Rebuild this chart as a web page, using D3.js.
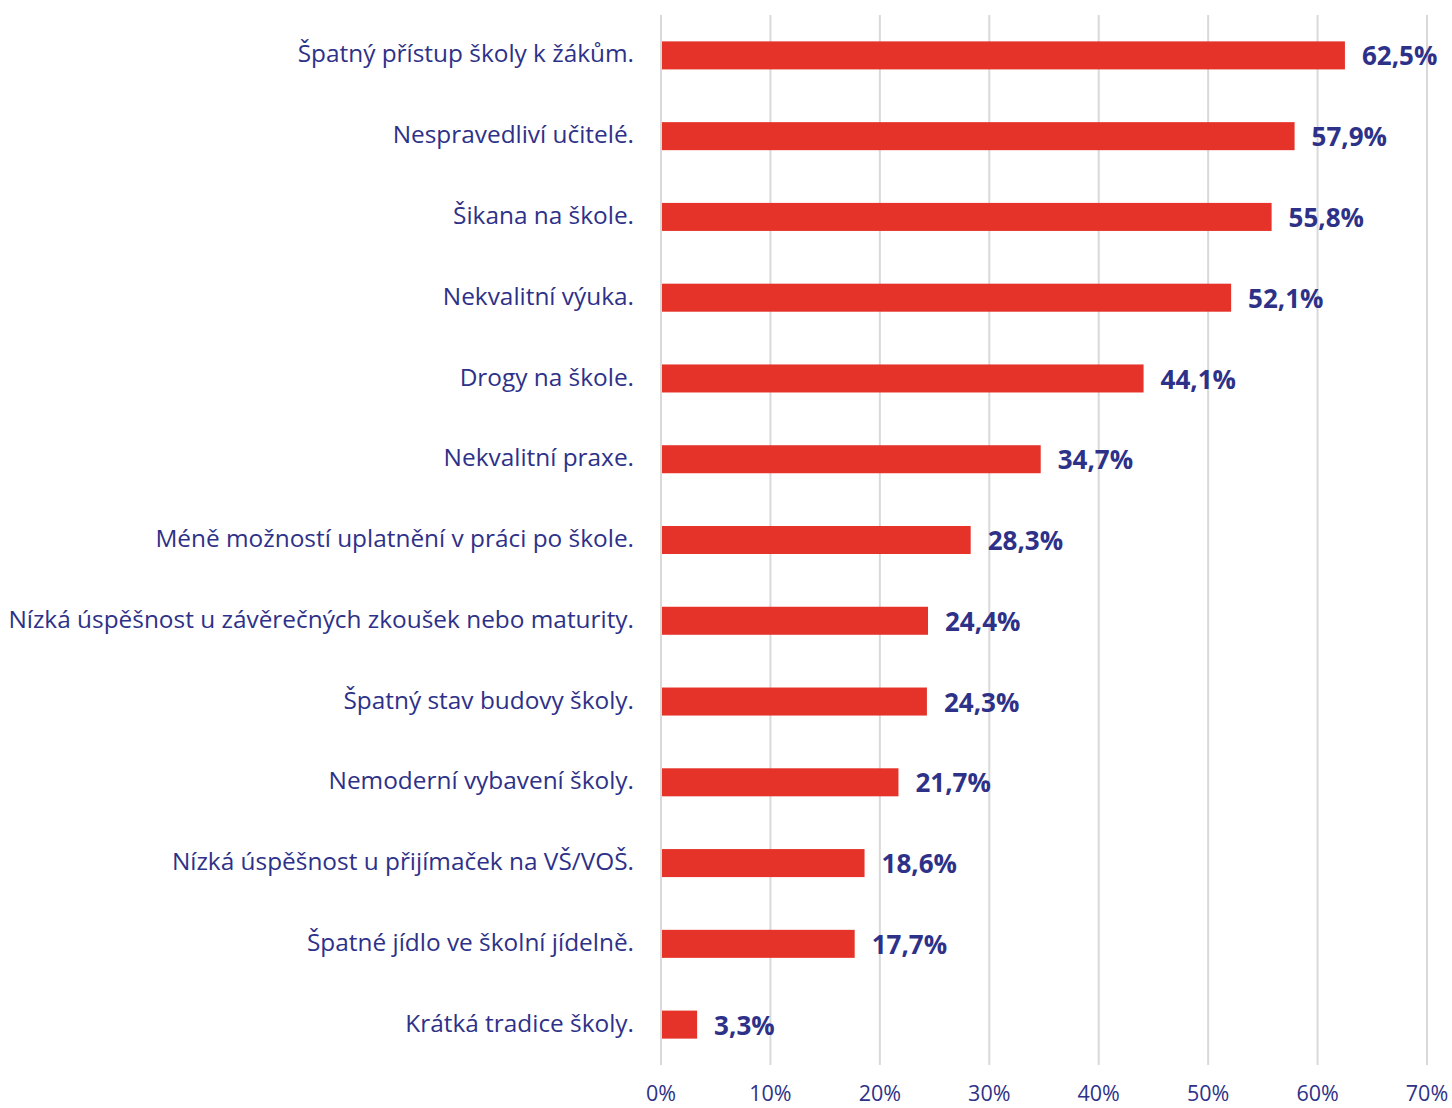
<!DOCTYPE html>
<html><head><meta charset="utf-8">
<script src="https://cdn.jsdelivr.net/npm/d3@7"></script>
<style>body{margin:0;background:#fff;}svg{display:block;font-family:"Open Sans",sans-serif;}</style>
</head><body><svg id="c" width="1452" height="1108"></svg>
<script>
const categories = ["Špatný přístup školy k žákům.","Nespravedliví učitelé.","Šikana na škole.","Nekvalitní výuka.","Drogy na škole.","Nekvalitní praxe.","Méně možností uplatnění v práci po škole.","Nízká úspěšnost u závěrečných zkoušek nebo maturity.","Špatný stav budovy školy.","Nemoderní vybavení školy.","Nízká úspěšnost u přijímaček na VŠ/VOŠ.","Špatné jídlo ve školní jídelně.","Krátká tradice školy."];
const values = [62.5,57.9,55.8,52.1,44.1,34.7,28.3,24.4,24.3,21.7,18.6,17.7,3.3];
const ticks = [0,10,20,30,40,50,60,70];

const svg = d3.select("#c");
const textColor = "#2e3188", barColor = "#e5332a";
const x = d3.scaleLinear().domain([0,70]).range([661,1427]);
const y = d3.scaleBand().domain(categories).range([15,1065]).paddingInner(0.653).paddingOuter(0.3265);

svg.append("g").selectAll("line").data(ticks).join("line")
  .attr("x1",d=>x(d)).attr("x2",d=>x(d)).attr("y1",15).attr("y2",1065)
  .attr("stroke","#d9d9d9").attr("stroke-width",2);

svg.append("g").selectAll("rect").data(values).join("rect")
  .attr("x",x(0)+1).attr("y",(d,i)=>y(categories[i]))
  .attr("width",d=>x(d)-x(0)-1).attr("height",y.bandwidth()).attr("fill",barColor);

svg.append("g").selectAll("text").data(categories).join("text")
  .attr("x",634).attr("y",d=>y(d)+y.bandwidth()/2-1).attr("dy","0.33em")
  .attr("text-anchor","end").attr("fill",textColor).attr("font-size",24.4).text(d=>d);

svg.append("g").selectAll("text").data(values).join("text")
  .attr("x",d=>x(d)+17).attr("y",(d,i)=>y(categories[i])+y.bandwidth()/2+1).attr("dy","0.35em")
  .attr("fill",textColor).attr("font-size",26).attr("font-weight","bold")
  .text(d=>d.toFixed(1).replace(".",",")+"%");

svg.append("g").selectAll("text").data(ticks).join("text")
  .attr("x",d=>x(d)).attr("y",1101).attr("text-anchor","middle")
  .attr("fill",textColor).attr("font-size",21.5).text(d=>d+"%");
</script></body></html>
